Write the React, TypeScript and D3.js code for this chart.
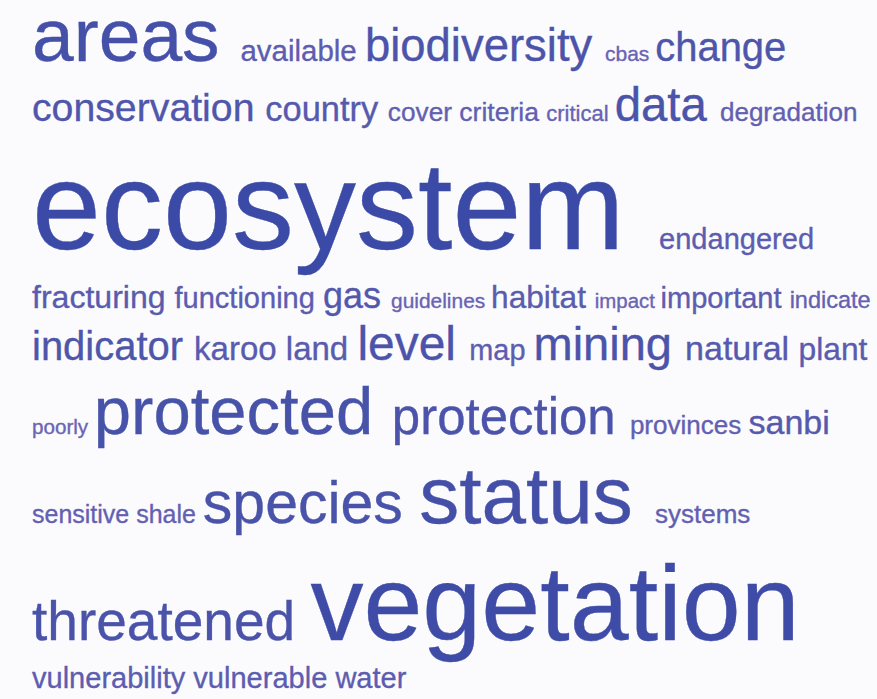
import * as d3 from "d3";
import { useEffect, useRef } from "react";

// Tag cloud terms, in the order they flow
const words = [
  "areas", "available", "biodiversity", "cbas", "change",
  "conservation", "country", "cover", "criteria", "critical", "data", "degradation",
  "ecosystem", "endangered",
  "fracturing", "functioning", "gas", "guidelines", "habitat", "impact", "important", "indicate",
  "indicator", "karoo", "land", "level", "map", "mining", "natural", "plant",
  "poorly", "protected", "protection", "provinces", "sanbi",
  "sensitive", "shale", "species", "status", "systems",
  "threatened", "vegetation",
  "vulnerability", "vulnerable", "water",
];

// Relative weight of each term (0 - 100)
const weights = [
  52.9, 9.1, 24.5, 1.0, 19.2,
  18.5, 13.9, 6.0, 6.3, 1.9, 26.3, 5.8,
  100, 8.7,
  11.6, 8.7, 15.4, 0.9, 11.2, 0.4, 8.7, 3.4,
  19.2, 12.5, 12.5, 26.9, 8.5, 26.0, 13.5, 11.3,
  0.6, 45.2, 29.8, 5.8, 13.5,
  4.8, 4.8, 37.5, 57.7, 5.8,
  33.7, 82.7,
  8.7, 8.7, 8.7,
];

type Item = {
  text: string;
  size: number;
  width: number;
  space: number;
  color: string;
  x: number;
  y: number;
};

export default function App() {
  const svgRef = useRef<SVGSVGElement | null>(null);

  const width = 877;
  const height = 699;

  useEffect(() => {
    const svg = d3.select(svgRef.current);
    svg.selectAll("*").remove();

    const margin = { top: -10, left: 32 };
    const lineWidth = 880;
    const fontFamily = '"Liberation Sans", Arial, Helvetica, sans-serif';
    // line box above / below the baseline, as a share of the font size
    const ascent = 0.95;
    const descent = 0.2;

    // weight -> font size / colour
    const sizeScale = d3.scaleLinear().domain([0, 100]).range([20, 124]);
    const colorScale = d3
      .scaleLinear<string>()
      .domain([0, 20, 100])
      .range(["#6a64b4", "#4d55aa", "#3a4aa6"])
      .interpolate(d3.interpolateRgb);

    const ctx = document.createElement("canvas").getContext("2d")!;
    const items: Item[] = words.map((w, i) => {
      const size = sizeScale(weights[i]);
      ctx.font = `${size}px ${fontFamily}`;
      return {
        text: w,
        size,
        width: ctx.measureText(w).width,
        space: ctx.measureText(" ").width,
        color: colorScale(weights[i]),
        x: 0,
        y: 0,
      };
    });

    // Flow words into lines
    const lines: Item[][] = [];
    let current: Item[] = [];
    let cursor = 0;
    items.forEach((it) => {
      if (current.length && cursor + it.width > lineWidth) {
        lines.push(current);
        current = [];
        cursor = 0;
      }
      it.x = margin.left + cursor;
      current.push(it);
      cursor += it.width + it.space;
    });
    if (current.length) lines.push(current);

    // Baselines from the biggest word on each line
    let top = margin.top;
    lines.forEach((line) => {
      const maxSize = d3.max(line, (d) => d.size) ?? 0;
      const baseline = top + ascent * maxSize;
      line.forEach((d) => (d.y = baseline));
      top = baseline + descent * maxSize;
    });

    svg
      .append("rect")
      .attr("width", width)
      .attr("height", height)
      .attr("fill", "#fbfbfd");

    svg
      .append("g")
      .selectAll("text")
      .data(items)
      .enter()
      .append("text")
      .attr("x", (d) => d.x)
      .attr("y", (d) => d.y)
      .attr("font-family", fontFamily)
      .attr("font-size", (d) => d.size)
      .attr("fill", (d) => d.color)
      .attr("stroke", (d) => d.color)
      .attr("stroke-width", 0.35)
      .text((d) => d.text);
  }, []);

  return (
    <svg
      ref={svgRef}
      width={width}
      height={height}
      style={{ position: "absolute", left: 0, top: 0 }}
    ></svg>
  );
}
